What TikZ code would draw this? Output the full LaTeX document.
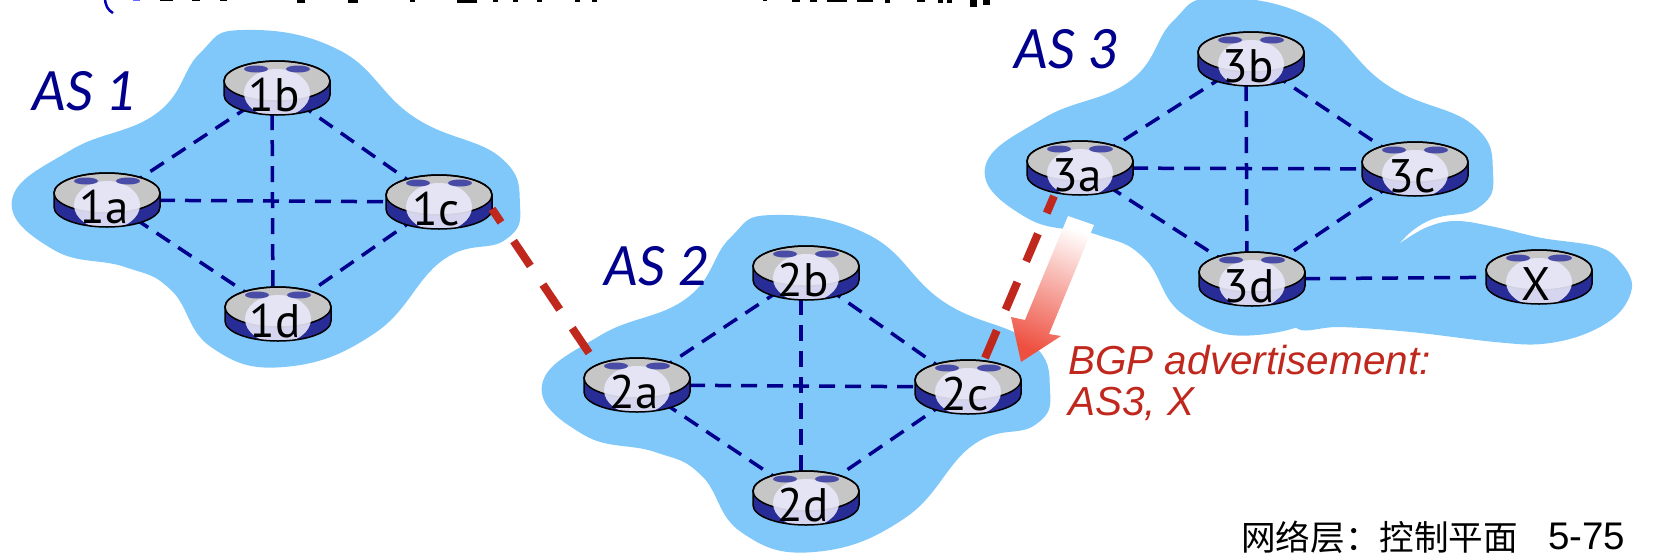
\documentclass[tikz,border=0pt]{standalone}
\usepackage{fontspec}
\setmainfont{Liberation Sans}
\newfontfamily\labelfont{PT Sans}
\newfontfamily\asfont{Lato}
\newfontfamily\cjkfont{Noto Sans CJK SC}
\definecolor{asblue}{RGB}{128,200,250}
\definecolor{linknavy}{RGB}{0,0,140}
\definecolor{bgpred}{RGB}{192,40,30}
\definecolor{arrowred}{RGB}{238,80,64}
\definecolor{routernavy}{RGB}{40,44,150}
\definecolor{routerpale}{RGB}{232,232,250}
\tikzset{
  asregion/.style={fill=asblue, draw=none},
  iplink/.style={linknavy, line width=3.5pt, dash pattern=on 16pt off 10pt},
  bgplink/.style={bgpred, line width=8pt, dash pattern=on 30pt off 22.5pt},
  routertext/.style={font=\labelfont\fontsize{47}{47}\selectfont, inner sep=0pt},
  astext/.style={font=\asfont\itshape\fontsize{54}{54}\selectfont, text=linknavy, inner sep=0pt},
}
% one router: rim, top plate, pale glow, two arrow marks and the name
\newcommand{\router}[2]{%
  \begin{scope}[shift={(#1)}]
    \fill [left color=routernavy, middle color=routerpale, right color=routernavy]
      (-53,-7) -- (-53,7) arc [start angle=180, end angle=0, x radius=53, y radius=20] -- (53,-7) -- cycle;
    \fill [gray!45] (0,-7) ellipse [x radius=53, y radius=20];
    \draw [black, line width=1.5pt] (0,-7) ellipse [x radius=53, y radius=20];
    \begin{scope}
      \clip (-53,-7) -- (-53,7) arc [start angle=180, end angle=0, x radius=53, y radius=20] -- (53,-7)
        arc [start angle=0, end angle=-180, x radius=53, y radius=20];
      \fill [routerpale, opacity=0.9] (0,5) ellipse [x radius=33, y radius=24];
    \end{scope}
    \draw [black, line width=1.5pt] (-53,-7) -- (-53,7) arc [start angle=180, end angle=0, x radius=53, y radius=20] -- (53,-7);
    \draw [black, line width=1.5pt] (-53,-7) arc [start angle=180, end angle=360, x radius=53, y radius=20];
    \fill [routernavy!85] (-21,-19) ellipse [x radius=12, y radius=3.5];
    \fill [routernavy!85] (21,-19) ellipse [x radius=12, y radius=3.5];
  \end{scope}
  \node [routertext] (r#2) at ([xshift=-3pt, yshift=-7pt]#1) {#2};
}
\newcommand{\ascloud}{plot [smooth cycle, tension=0.75] coordinates {
  (243,30) (339,50) (414,117) (500,157) (520,205) (505,240) (443,260) (375,333)
  (284,367) (211,347) (171,290) (125,267) (54,250) (12,200) (71,150) (157,113) (200,53)}}
\begin{document}
\begin{tikzpicture}[x=1pt, y=-1pt]
\useasboundingbox (0,0) rectangle (1678,558);

%REGIONS
\fill [asregion] \ascloud;
\fill [asregion, shift={(530,185)}] \ascloud;
\fill [asregion, shift={(973,-32)}] \ascloud;
\fill [asregion] plot [smooth cycle, tension=0.6] coordinates {
  (1340,285) (1400,243) (1430,226) (1458,221) (1495,227) (1542,238) (1599,247) (1622,264) (1632,287)
  (1618,314) (1585,334) (1542,344) (1495,342) (1411,332) (1340,327) (1298,329) (1290,300)};

%ROUTER POSITIONS
\coordinate (1a) at (107,200);
\coordinate (1b) at (277,88);
\coordinate (1c) at (439,202);
\coordinate (1d) at (278,314);
\coordinate (2a) at (637,385);
\coordinate (2b) at (806,273);
\coordinate (2c) at (968,387);
\coordinate (2d) at (806,498);
\coordinate (3a) at (1080,168);
\coordinate (3b) at (1251,59);
\coordinate (3c) at (1415,169);
\coordinate (3d) at (1252,279);
\coordinate (X) at (1539,277);

%LINKS
\foreach \n in {1,2,3}{
  \draw [iplink] (\n a) -- (\n b);
  \draw [iplink] (\n b) -- (\n c);
  \draw [iplink] (\n c) -- (\n d);
  \draw [iplink] (\n d) -- (\n a);
  \draw [iplink] (\n a) -- (\n c);
  \draw [iplink] ([xshift=-5pt]\n b) -- ([xshift=-5pt]\n d);
}
\draw [iplink] (3d) -- (X);

%ROUTERS
\router{1a}{1a}
\router{1b}{1b}
\router{1c}{1c}
\router{1d}{1d}
\router{2a}{2a}
\router{2b}{2b}
\router{2c}{2c}
\router{2d}{2d}
\router{3a}{3a}
\router{3b}{3b}
\router{3c}{3c}
\router{3d}{3d}
\router{X}{X}

%BGP SESSIONS
\coordinate (port2a) at (589,353);
\coordinate (port1c) at (492,209);
\coordinate (port2c) at (985,358);
\coordinate (port3a) at (1054,196);
\draw [bgplink] (port2a) -- (port1c);
\draw [bgplink] (port2c) -- (port3a);

%ADVERTISEMENT ARROW
\shade [top color=white, bottom color=arrowred, shading angle=-22]
  (1068,216) -- (1094,225) -- (1049,334) -- (1061,336) -- (1021,362) -- (1011,317) -- (1025,320) -- cycle;

%TEXT
\node [astext] (as1) at (85,91) {AS 1};
\node [astext] (as2) at (657,266) {AS 2};
\node [astext] (as3) at (1067,49) {AS 3};
\node [anchor=north west, align=left, text=bgpred, inner sep=0pt, font=\itshape\fontsize{40.5}{41}\selectfont] (adv) at (1068,345) {BGP advertisement:\\AS3, X};
\node [anchor=west, inner sep=0pt, font=\cjkfont\fontsize{34.6}{36}\selectfont] (title) at (1241,537) {网络层：控制平面};
\node [anchor=west, inner sep=0pt, font=\fontsize{38.5}{38}\selectfont] (page) at (1548,536) {5-75};

%CUT OFF HEADING
\draw [blue!70!black, line width=2.5pt] (105,-3) .. controls (105,6) and (108,10) .. (113,13);
\fill [blue!60] (133,0) rectangle (140,1);
\foreach \a/\b/\h in {160/173/1,192/200/1,220/227/1,297/305/3,348/358/3,410/415/2,457/477/3,493/498/2,513/518/2,537/542/2,
  575/580/2,592/597/2,763/767/1,792/800/2,810/817/2,827/847/2,857/873/2,885/890/3,917/925/2,938/943/3,947/952/3,970/977/7,983/990/5}{
  \fill [black] (\a,0) rectangle (\b,\h);
}
\end{tikzpicture}
\end{document}
